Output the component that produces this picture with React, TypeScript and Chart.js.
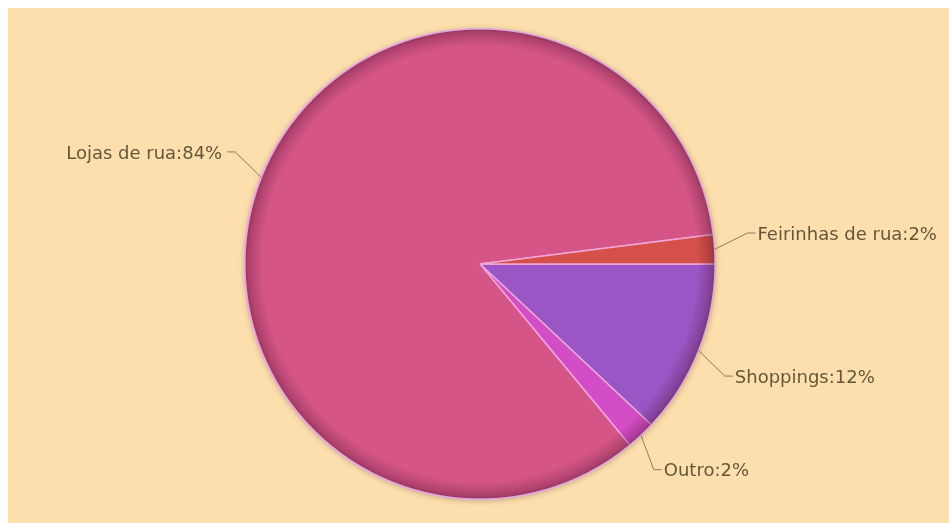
import React, { useEffect, useRef } from "react";
import { Chart, registerables } from "chart.js";

Chart.register(...registerables);

// Data (clockwise from 3 o'clock)
const categories = ["Shoppings", "Outro", "Lojas de rua", "Feirinhas de rua"];
const shares = [12, 2, 84, 2];
const sliceColors = ["#9A56C4", "#D24DC6", "#D55686", "#D5504A"];

const BG = "#FDDFAE";
const TEXT = "#655739";
const LINE = "#8C7B5A";

const piePlugin = {
  id: "pieDecor",
  beforeDatasetsDraw(chart: any) {
    const arc = chart.getDatasetMeta(0).data[0];
    if (!arc) return;
    const { x, y, outerRadius } = arc.getProps(["x", "y", "outerRadius"], true);
    const ctx = chart.ctx;
    ctx.save();
    ctx.shadowColor = "rgba(60,30,20,0.35)";
    ctx.shadowBlur = 6;
    ctx.shadowOffsetX = 0;
    ctx.shadowOffsetY = 1;
    ctx.beginPath();
    ctx.arc(x, y, outerRadius, 0, Math.PI * 2);
    ctx.fillStyle = "#D55686";
    ctx.fill();
    ctx.restore();
  },
  afterDatasetsDraw(chart: any) {
    const meta = chart.getDatasetMeta(0);
    const first = meta.data[0];
    if (!first) return;
    const { x, y, outerRadius } = first.getProps(["x", "y", "outerRadius"], true);
    const ctx = chart.ctx;
    // inner edge shading
    ctx.save();
    const g = ctx.createRadialGradient(x, y, outerRadius - 18, x, y, outerRadius);
    g.addColorStop(0, "rgba(70,10,40,0)");
    g.addColorStop(0.7, "rgba(70,10,40,0.24)");
    g.addColorStop(1, "rgba(70,10,40,0.42)");
    ctx.beginPath();
    ctx.arc(x, y, outerRadius, 0, Math.PI * 2);
    ctx.fillStyle = g;
    ctx.fill();
    ctx.lineWidth = 1.5;
    ctx.strokeStyle = "rgba(228,172,222,0.95)";
    ctx.stroke();
    ctx.restore();

    // labels with leader lines
    const total = shares.reduce((a, b) => a + b, 0);
    ctx.save();
    ctx.font = "18px 'DejaVu Sans'";
    ctx.fillStyle = TEXT;
    ctx.strokeStyle = LINE;
    ctx.lineWidth = 1;
    ctx.textBaseline = "middle";
    meta.data.forEach((el: any, i: number) => {
      const p = el.getProps(["startAngle", "endAngle"], true);
      const mid = (p.startAngle + p.endAngle) / 2;
      const c = Math.cos(mid);
      const s = Math.sin(mid);
      const ex = x + outerRadius * c;
      const ey = y + outerRadius * s;
      const delta = ((3 * Math.PI) / 180) * Math.sign(s * c || 1);
      const ea = mid + delta;
      const rr = outerRadius + 34;
      const bx = x + rr * Math.cos(ea);
      const by = y + rr * Math.sin(ea);
      const right = Math.cos(ea) >= 0;
      const hx = bx + (right ? 8 : -8);
      ctx.beginPath();
      ctx.moveTo(ex, ey);
      ctx.lineTo(bx, by);
      ctx.lineTo(hx, by);
      ctx.stroke();
      const pct = Math.round((shares[i] / total) * 100);
      const txt = `${categories[i]}:${pct}%`;
      ctx.textAlign = right ? "left" : "right";
      ctx.fillText(txt, hx + (right ? 2 : -5), by + 2);
    });
    ctx.restore();
  },
};

export default function App() {
  const ref = useRef<HTMLCanvasElement | null>(null);
  useEffect(() => {
    document.body.style.overflow = "hidden";
    const canvas = ref.current;
    if (!canvas) return;
    const chart = new Chart(canvas, {
      type: "pie",
      data: {
        labels: categories,
        datasets: [
          {
            data: shares,
            backgroundColor: sliceColors,
            borderColor: "#F2A6D8",
            borderWidth: 1.5,
          },
        ],
      },
      options: {
        responsive: false,
        animation: false,
        rotation: 90,
        layout: { padding: { top: 20, bottom: 38, left: 3, right: 19 } },
        plugins: {
          legend: { display: false },
          tooltip: { enabled: false },
        },
      },
      plugins: [
        {
          id: "bg",
          beforeDraw(c: any) {
            const ctx = c.ctx;
            ctx.save();
            ctx.fillStyle = BG;
            ctx.fillRect(0, 0, c.width, c.height);
            ctx.restore();
          },
        },
        piePlugin,
      ],
    });
    return () => chart.destroy();
  }, []);
  return (
    <div>
      <div
        style={{
          position: "fixed",
          left: 8,
          top: 8,
          width: 2000,
          height: 2000,
          background: BG,
        }}
      />
      <canvas
        ref={ref}
        width={960}
        height={530}
        style={{ display: "block", position: "relative" }}
      />
    </div>
  );
}
